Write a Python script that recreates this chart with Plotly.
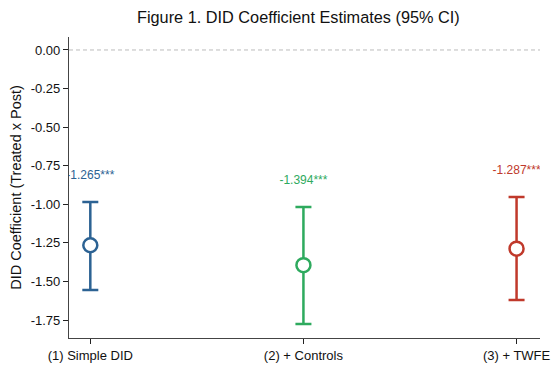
import plotly.graph_objects as go

models = ["(1) Simple DID", "(2) + Controls", "(3) + TWFE"]
coefs = [-1.265, -1.394, -1.287]
ci_upper = [-0.985, -1.017, -0.953]
ci_lower = [-1.555, -1.776, -1.620]
stars = ["***", "***", "***"]
colors = ["#2c6293", "#2eaa5e", "#c0392b"]
ytick_vals = [0.0, -0.25, -0.5, -0.75, -1.0, -1.25, -1.5, -1.75]
ytick_text = ["0.00", "-0.25", "-0.50", "-0.75", "-1.00", "-1.25", "-1.50", "-1.75"]

fig = go.Figure()
for i, m in enumerate(models):
    fig.add_trace(go.Scatter(
        x=[i], y=[coefs[i]], mode="markers",
        marker=dict(symbol="circle", size=14, color="white",
                    line=dict(color=colors[i], width=2.5)),
        error_y=dict(type="data", symmetric=False,
                     array=[ci_upper[i] - coefs[i]],
                     arrayminus=[coefs[i] - ci_lower[i]],
                     color=colors[i], thickness=2.5, width=8),
        showlegend=False, cliponaxis=False,
    ))
    fig.add_trace(go.Scatter(
        x=[i], y=[ci_upper[i] + 0.17], mode="text",
        text=[f"{coefs[i]:.3f}{stars[i]}"],
        textfont=dict(color=colors[i], size=12, family="Liberation Sans, Arial"),
        textposition="middle center", showlegend=False, cliponaxis=True,
    ))

fig.add_shape(type="line", xref="paper", x0=0, x1=1, yref="y", y0=0, y1=0,
              line=dict(color="#bbbbbb", width=1, dash="4px,3px"), layer="below")

fig.update_layout(
    width=552, height=362,
    margin=dict(l=61, r=20, t=29, b=32),
    plot_bgcolor="white", paper_bgcolor="white",
    font=dict(family="Liberation Sans, Arial", size=13, color="#222"),
    title=dict(text="Figure 1. DID Coefficient Estimates (95% CI)",
               x=0.526, xanchor="center", y=0.975, yanchor="middle",
               font=dict(size=16.3, color="#111")),
)
fig.update_xaxes(
    range=[-0.1, 2.11], tickvals=[0, 1, 2], ticktext=models,
    showline=True, linecolor="#444", linewidth=1.2, ticks="outside",
    ticklen=5, tickcolor="#222", showgrid=False, zeroline=False,
    tickfont=dict(size=13, color="#111"), automargin=False,
)
fig.update_yaxes(
    range=[-1.866, 0.084], tickvals=ytick_vals, ticktext=ytick_text,
    showline=True, linecolor="#444", linewidth=1.2, ticks="outside",
    ticklen=5, tickcolor="#222", showgrid=False, zeroline=False,
    tickfont=dict(size=13, color="#111"), automargin=False,
    title=dict(text="DID Coefficient (Treated x Post)", font=dict(size=14.5, color="#111"), standoff=8),
)

fig.write_html("out.html")
